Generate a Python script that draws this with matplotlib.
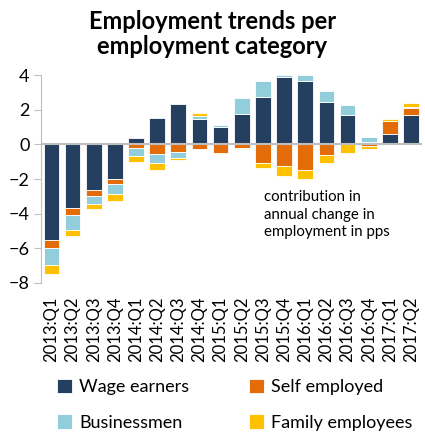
import numpy as np
import matplotlib
matplotlib.use('Agg')
import matplotlib.pyplot as plt

plt.rcParams['font.family'] = ['Lato', 'DejaVu Sans']

quarters = ['2013:Q1', '2013:Q2', '2013:Q3', '2013:Q4',
            '2014:Q1', '2014:Q2', '2014:Q3', '2014:Q4',
            '2015:Q1', '2015:Q2', '2015:Q3', '2015:Q4',
            '2016:Q1', '2016:Q2', '2016:Q3', '2016:Q4',
            '2017:Q1', '2017:Q2']

# contributions in pps
wage = [-5.52, -3.67, -2.63, -2.00, 0.35, 1.50, 2.35, 1.44, 0.98, 1.77,
        2.71, 3.90, 3.67, 2.46, 1.67, 0.13, 0.60, 1.71]
self_emp = [-0.44, -0.41, -0.35, -0.27, -0.19, -0.56, -0.42, -0.27, -0.50, -0.23,
            -1.06, -1.25, -1.48, -0.60, 0.03, -0.12, 0.75, 0.40]
business = [-0.98, -0.88, -0.48, -0.61, -0.50, -0.52, -0.39, 0.19, 0.12, 0.92,
            0.92, 0.10, 0.33, 0.65, 0.58, 0.27, 0.00, 0.06]
family = [-0.52, -0.31, -0.25, -0.41, -0.31, -0.38, -0.11, 0.16, -0.06, -0.06,
          -0.29, -0.58, -0.52, -0.46, -0.50, -0.17, 0.10, 0.19]

series = [('Wage earners', wage, '#243F60'),
          ('Self employed', self_emp, '#E36C09'),
          ('Businessmen', business, '#92CDDC'),
          ('Family employees', family, '#FFC000')]

fig = plt.figure(figsize=(4.25, 4.34), dpi=100)
ax = fig.add_axes([0.096, 0.348, 0.896, 0.479])

x = np.arange(len(quarters))
pos_base = np.zeros(len(quarters))
neg_base = np.zeros(len(quarters))
for name, vals, col in series:
    vals = np.array(vals)
    bottom = np.where(vals >= 0, pos_base, neg_base)
    ax.bar(x, vals, 0.74, bottom=bottom, color=col, label=name,
           edgecolor='white', linewidth=0.6, zorder=2)
    pos_base = pos_base + np.where(vals >= 0, vals, 0)
    neg_base = neg_base + np.where(vals < 0, vals, 0)

ax.axhline(0, color='#BFBFBF', lw=1.5, zorder=3)

ax.set_xlim(-0.5, 17.5)
ax.set_ylim(-8, 4)
ax.set_yticks([4, 2, 0, -2, -4, -6, -8])
ax.set_xticks(x)
ax.set_xticklabels(quarters, rotation=90, fontsize=12)
ax.tick_params(axis='x', length=0, pad=10)
ax.tick_params(axis='y', labelsize=13, length=5, color='#BFBFBF', pad=3)
for s in ['top', 'right', 'bottom']:
    ax.spines[s].set_visible(False)
ax.spines['left'].set_color('#BFBFBF')

ax.text(0.585, 0.445, 'contribution in\nannual change in\nemployment in pps',
        transform=ax.transAxes, fontsize=10.8, va='top', ha='left', linespacing=1.3)

fig.text(0.5, 0.977, 'Employment trends per\nemployment category', ha='center', va='top',
         fontsize=17, fontweight='bold', linespacing=1.1)

# legend is filled column-wise, so reorder to get rows as in the original
handles, labels = ax.get_legend_handles_labels()
order = [0, 2, 1, 3]
fig.legend([handles[i] for i in order], [labels[i] for i in order],
           loc='lower left', ncol=2, bbox_to_anchor=(0.095, -0.03),
           frameon=False, fontsize=13, handlelength=0.85, handleheight=0.85,
           columnspacing=3.3, labelspacing=1.05, handletextpad=0.4)

fig.savefig('out.png', dpi=100)
